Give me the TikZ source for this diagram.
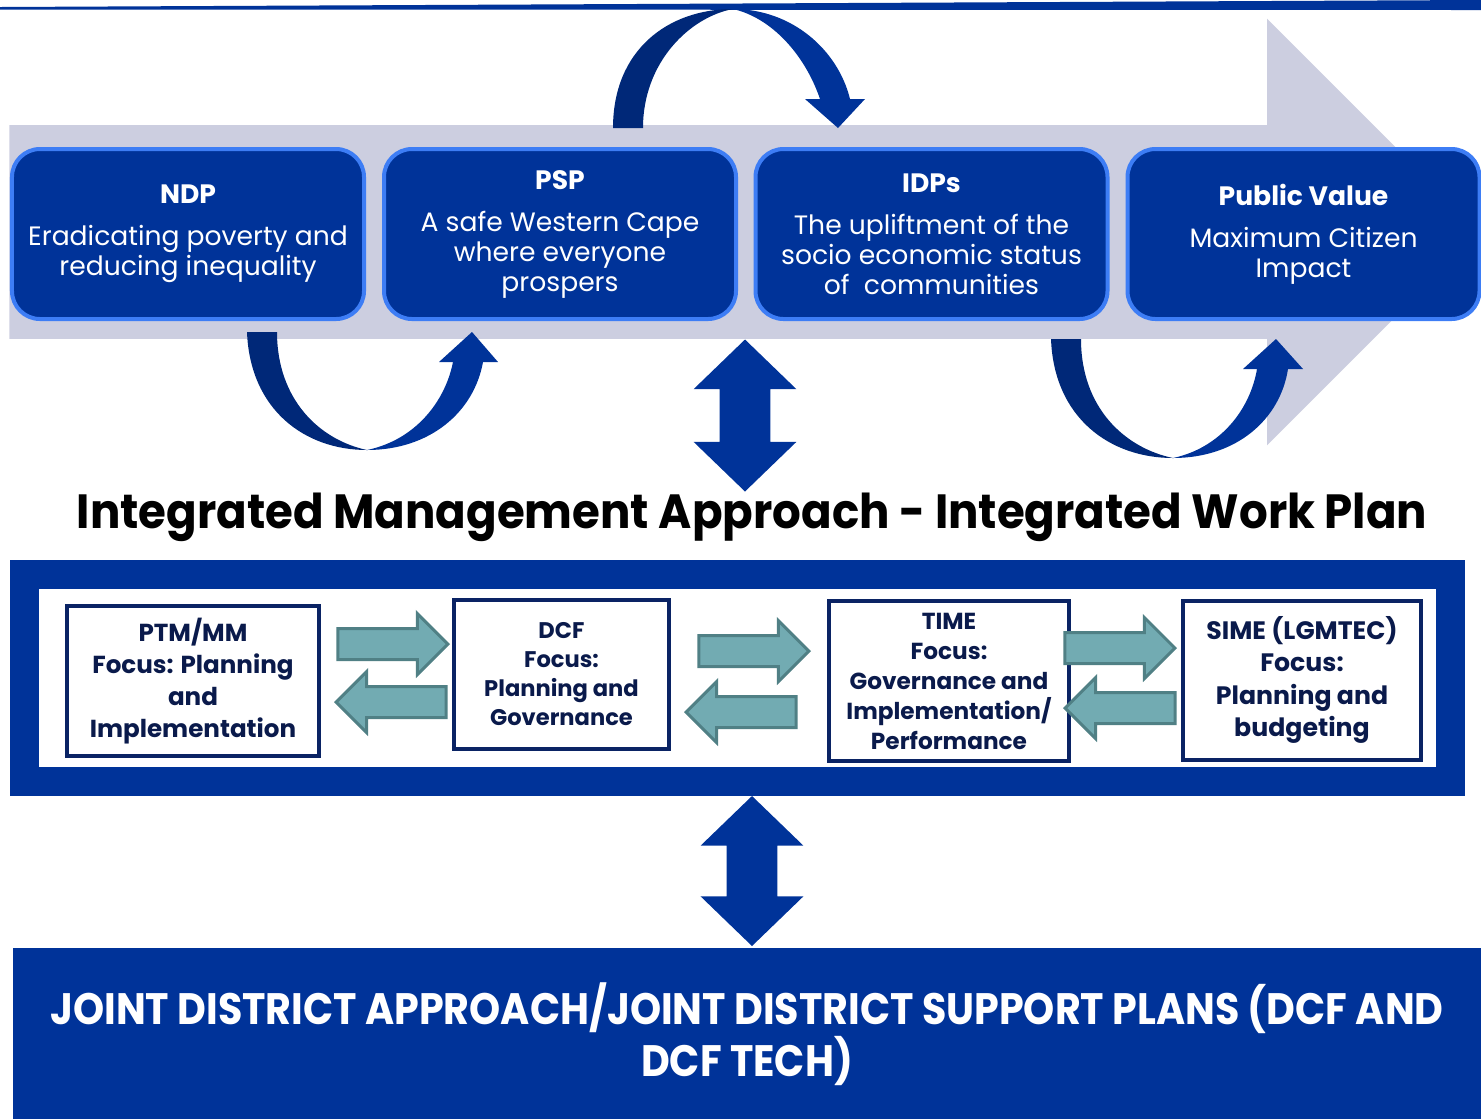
\documentclass[tikz,border=0pt]{standalone}
\usepackage{fontspec}
\setmainfont{Poppins}
\usetikzlibrary{shapes.arrows}

\definecolor{imablue}{RGB}{0,51,153}
\definecolor{backblue}{RGB}{0,40,120}
\definecolor{edgeblue}{RGB}{61,125,245}
\definecolor{flowgray}{RGB}{204,206,224}
\definecolor{tealfill}{RGB}{114,171,178}
\definecolor{tealline}{RGB}{80,128,133}
\definecolor{navyline}{RGB}{10,35,100}
\definecolor{navytext}{RGB}{10,26,75}

\tikzstyle{valuebox} = [rectangle, rounded corners=14bp, minimum width=176bp, minimum height=85bp, align=center, draw=edgeblue, line width=2bp, fill=imablue, text=white, font=\fontsize{13.3bp}{15bp}\selectfont]
\tikzstyle{focusbox} = [rectangle, align=center, draw=navyline, line width=2bp, fill=white, text=navytext, inner sep=0pt, font=\bfseries\fontsize{12.3bp}{16bp}\selectfont]
\tikzstyle{tealarrow} = [single arrow, draw=tealline, line width=1.5bp, fill=tealfill, inner xsep=0pt, inner ysep=7bp, single arrow head extend=7.5bp, single arrow tip angle=90, minimum height=55bp, anchor=tip]
\tikzstyle{updown} = [double arrow, fill=imablue, rotate=90, inner xsep=0pt, inner ysep=12.5bp, double arrow head extend=13bp, double arrow tip angle=92, minimum height=76bp]

% squeeze a line of caps to the width of the slide text
\newcommand{\narrowline}[2]{\scalebox{#1}[1]{#2}}

\begin{document}
\begin{tikzpicture}[x=0.5bp, y=-0.5bp]

	\useasboundingbox (0,0) rectangle (1481,1118);

% Rule along the top
	\fill[imablue] (0,7) -- (1481,0) -- (1481,10) -- (0,9.5) -- cycle;

% Big grey flow arrow behind the value chain
	\node (flow) [single arrow, fill=flowgray, inner xsep=0pt, inner ysep=53.25bp, single arrow head extend=53.25bp, single arrow tip angle=90, minimum height=735.5bp, anchor=tip] at (1481,232) {};

% Value chain
	\node (ndp) [valuebox] at (188,234) {{\bfseries NDP}\\[6bp]Eradicating poverty and\\reducing inequality};

	\node (psp) [valuebox] at (560,234) {{\bfseries PSP}\\[6bp]A safe Western Cape\\where everyone\\prospers};

	\node (idp) [valuebox] at (931.5,234) {{\bfseries IDPs}\\[6bp]The upliftment of the\\socio economic status\\of~~communities};

	\node (pubval) [valuebox] at (1303.5,234) {{\bfseries Public Value}\\[6bp]Maximum Citizen\\Impact};

% Curved arrows, PSP -> IDPs over the top
	\fill[backblue] (613,128) .. controls (613,50) and (668,9) .. (733,9) .. controls (690,17) and (643,62) .. (643,128) -- cycle;
	\fill[imablue] (733,9) .. controls (792,9) and (838,50) .. (850,99) -- (865,99) -- (838,128) -- (805,99) -- (820,99) .. controls (805,55) and (772,18) .. (733,9) -- cycle;

% NDP -> PSP underneath
	\fill[backblue] (247,332) .. controls (250,410) and (305,450) .. (367,450) .. controls (320,440) and (277,400) .. (277,332) -- cycle;
	\fill[imablue] (367,450) .. controls (430,450) and (474,412) .. (483,362) -- (498,362) -- (472,332) -- (439,362) -- (453,362) .. controls (445,402) and (415,440) .. (367,450) -- cycle;

% IDPs -> Public Value underneath
	\fill[backblue] (1051,339) .. controls (1054,418) and (1110,458) .. (1173,458) .. controls (1125,448) and (1081,408) .. (1081,339) -- cycle;
	\fill[imablue] (1173,458) .. controls (1236,458) and (1280,420) .. (1288,369) -- (1303,369) -- (1276,339) -- (1243,369) -- (1257,369) .. controls (1250,410) and (1220,448) .. (1173,458) -- cycle;

% Link down to the work plan
	\node (linkup) [updown] at (745,415.5) {};

	\node (imatitle) [font=\bfseries\fontsize{24bp}{30bp}\selectfont] at (752,517) {\narrowline{0.94}{Integrated Management Approach - Integrated Work Plan}};

% Work plan frame
	\node (frame) [rectangle, draw=imablue, line width=14.5bp, fill=white, minimum width=713bp, minimum height=103.75bp] at (737.5,677.75) {};

	\node (ptm) [focusbox, minimum width=126bp, minimum height=75bp] at (193,681) {PTM/MM\\Focus: Planning\\and\\Implementation};

	\node (dcf) [focusbox, minimum width=107.5bp, minimum height=74.5bp, font=\bfseries\fontsize{11.3bp}{14.5bp}\selectfont] at (561.5,674.5) {DCF\\Focus:\\Planning and\\Governance};

	\node (time) [focusbox, minimum width=120bp, minimum height=80bp, font=\bfseries\fontsize{11.6bp}{15bp}\selectfont] at (949,681) {TIME\\Focus:\\Governance and\\Implementation/\\Performance};

	\node (sime) [focusbox, minimum width=119bp, minimum height=79.5bp, font=\bfseries\fontsize{12.6bp}{16.3bp}\selectfont] at (1302,680) {SIME (LGMTEC)\\Focus:\\Planning and\\budgeting};

% Teal arrows between the focus boxes
	\node (ptmdcf) [tealarrow] at (450,644) {};
	\node (dcfptm) [tealarrow, shape border rotate=180] at (334,702) {};

	\node (dcftime) [tealarrow] at (811,651) {};
	\node (timedcf) [tealarrow, shape border rotate=180] at (684,712) {};

	\node (timesime) [tealarrow] at (1177,648) {};
	\node (simetime) [tealarrow, shape border rotate=180] at (1063,708) {};

% Link down to the district plans
	\node (linkdown) [updown, minimum height=75bp] at (752,871) {};

	\node (jda) [rectangle, fill=imablue, text=white, align=center, minimum width=734bp, minimum height=86bp, font=\bfseries\fontsize{22bp}{26bp}\selectfont] at (747,1034) {\narrowline{0.9}{JOINT DISTRICT APPROACH/JOINT DISTRICT SUPPORT PLANS (DCF AND}\\\narrowline{0.9}{DCF TECH)}};

\end{tikzpicture}
\end{document}
